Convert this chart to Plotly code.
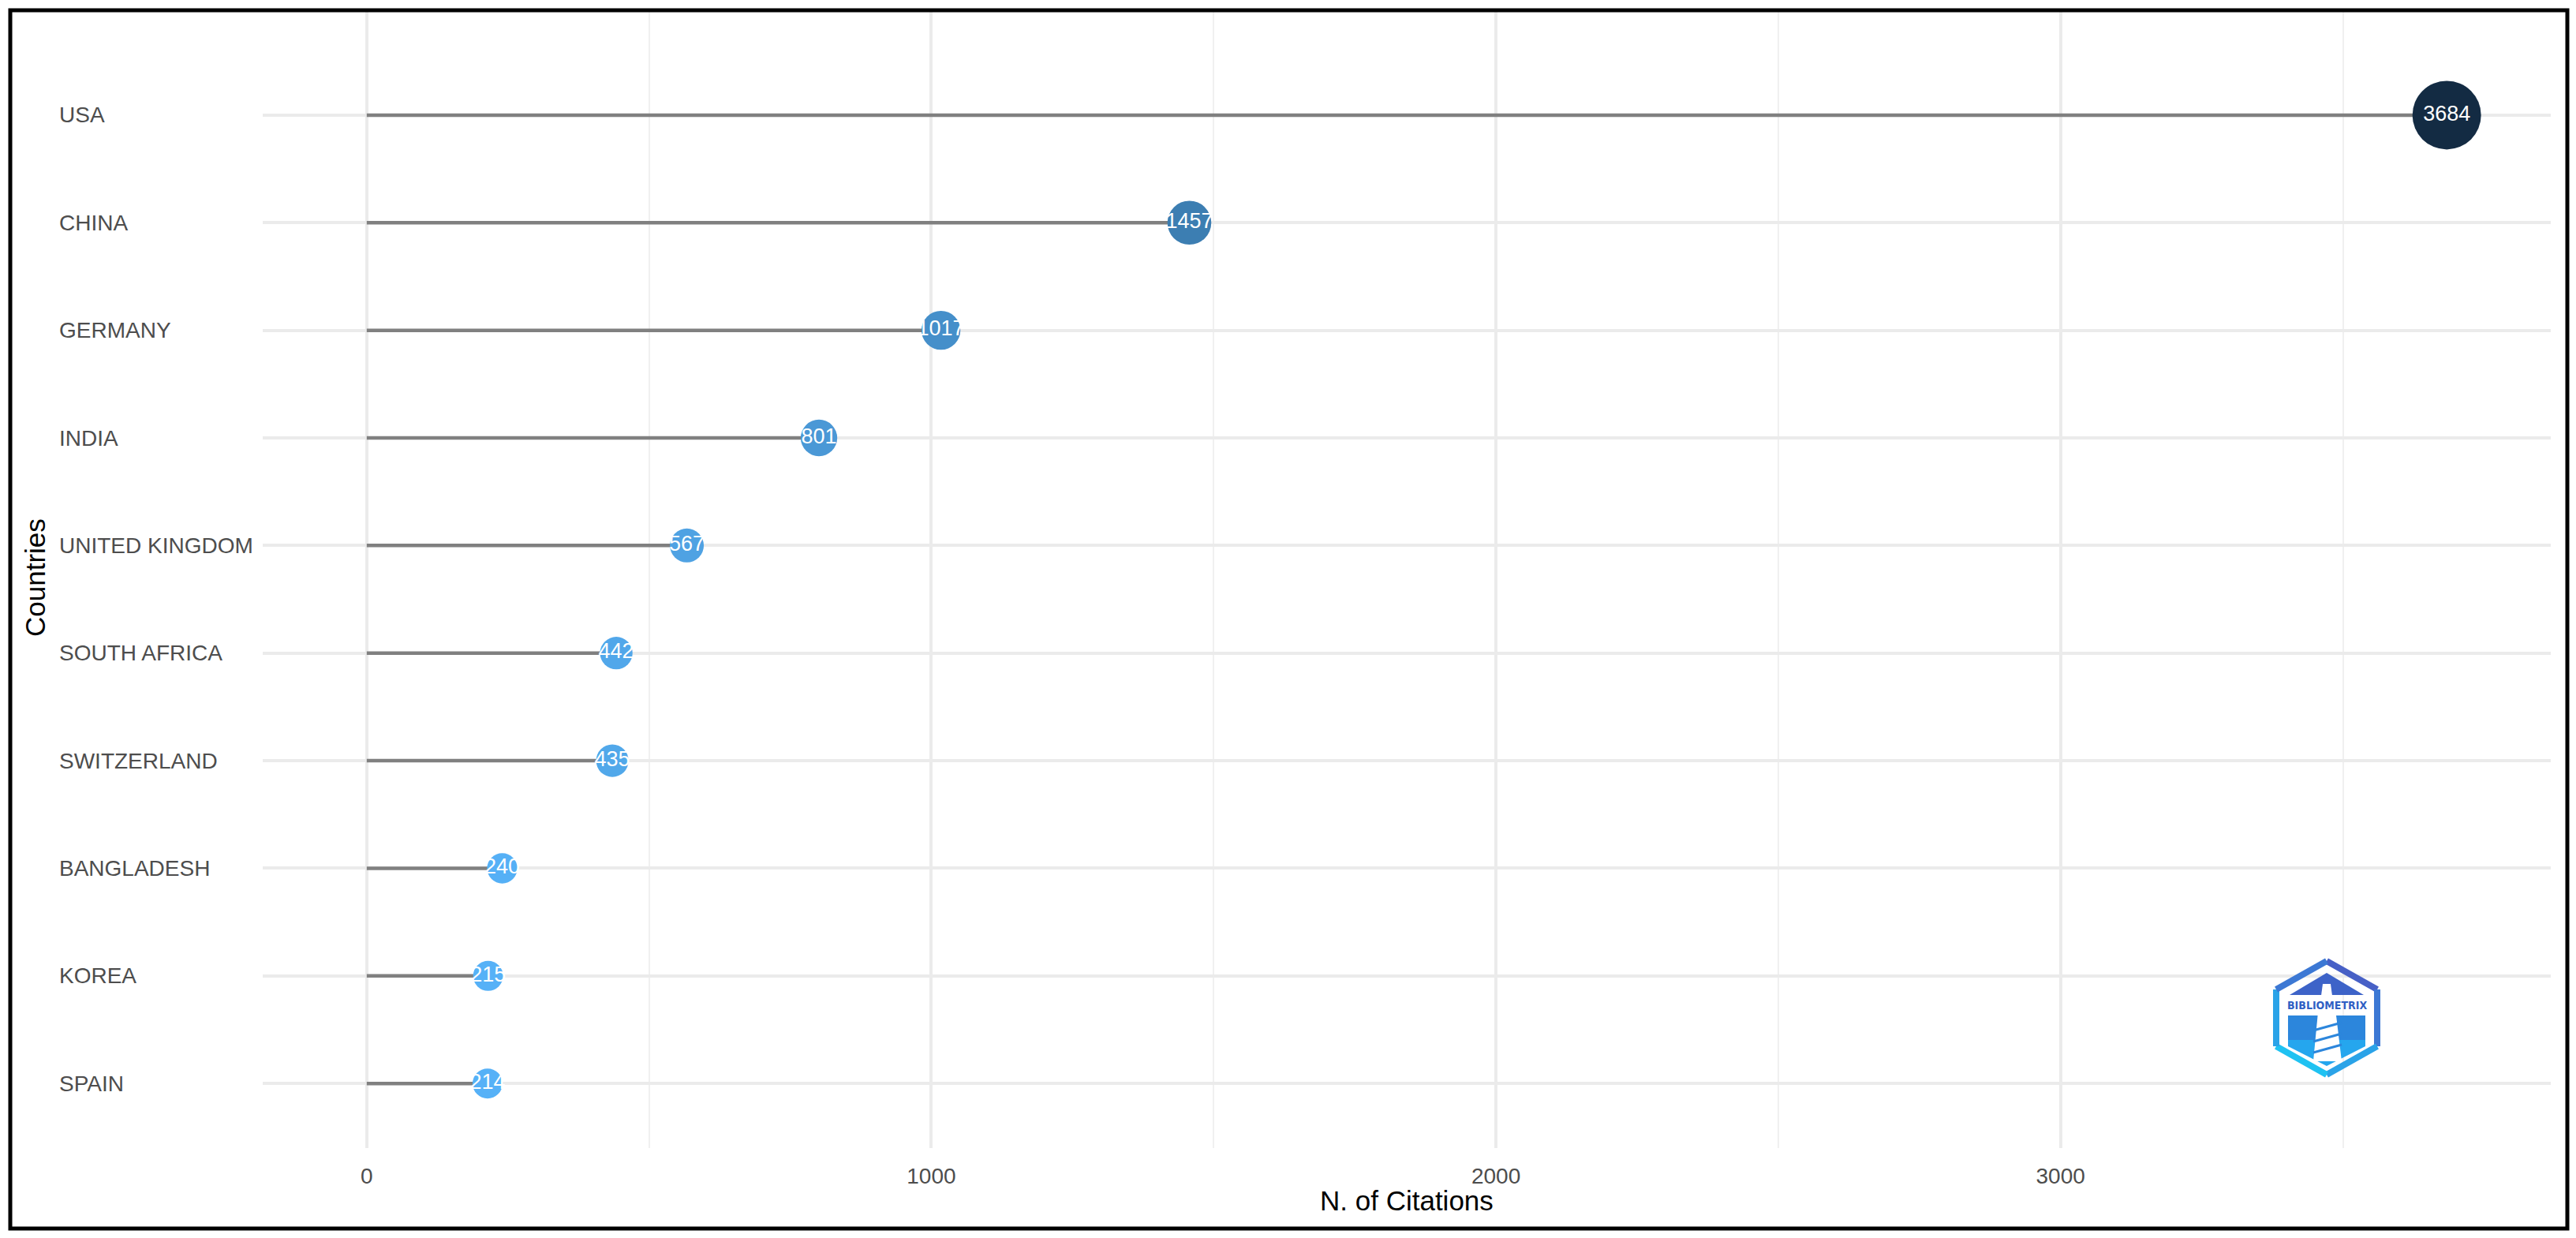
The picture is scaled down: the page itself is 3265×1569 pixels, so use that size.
import plotly.graph_objects as go

# ---------------- data ----------------
countries = ["USA", "CHINA", "GERMANY", "INDIA", "UNITED KINGDOM",
             "SOUTH AFRICA", "SWITZERLAND", "BANGLADESH", "KOREA", "SPAIN"]
citations = [3684, 1457, 1017, 801, 567, 442, 435, 240, 215, 214]
x_ticks = [0, 1000, 2000, 3000]
x_title = "N. of Citations"
y_title = "Countries"

# ---------------- colour scale (ggplot-like Lab gradient) ----------------
def _srgb_to_lin(c):
    c = c / 255.0
    return c / 12.92 if c <= 0.04045 else ((c + 0.055) / 1.055) ** 2.4

def _lin_to_srgb(c):
    c = 12.92 * c if c <= 0.0031308 else 1.055 * c ** (1 / 2.4) - 0.055
    return max(0, min(255, round(c * 255)))

def hex_to_lab(h):
    r, g, b = (_srgb_to_lin(int(h[i:i + 2], 16)) for i in (1, 3, 5))
    X = (0.4124 * r + 0.3576 * g + 0.1805 * b) / 0.95047
    Y = (0.2126 * r + 0.7152 * g + 0.0722 * b)
    Z = (0.0193 * r + 0.1192 * g + 0.9505 * b) / 1.08883
    f = lambda t: t ** (1 / 3) if t > 0.008856 else 7.787 * t + 16 / 116
    fx, fy, fz = f(X), f(Y), f(Z)
    return 116 * fy - 16, 500 * (fx - fy), 200 * (fy - fz)

def lab_to_hex(L, a, b):
    fy = (L + 16) / 116
    fx = fy + a / 500
    fz = fy - b / 200
    finv = lambda t: t ** 3 if t ** 3 > 0.008856 else (t - 16 / 116) / 7.787
    X, Y, Z = finv(fx) * 0.95047, finv(fy), finv(fz) * 1.08883
    r = 3.2406 * X - 1.5372 * Y - 0.4986 * Z
    g = -0.9689 * X + 1.8758 * Y + 0.0415 * Z
    bb = 0.0557 * X - 0.2040 * Y + 1.0570 * Z
    return "#%02X%02X%02X" % (_lin_to_srgb(max(r, 0)), _lin_to_srgb(max(g, 0)), _lin_to_srgb(max(bb, 0)))

light, dark = hex_to_lab("#56B1F7"), hex_to_lab("#132B43")
vmin, vmax = min(citations), max(citations)
tvals = [(v - vmin) / (vmax - vmin) for v in citations]
colors = [lab_to_hex(*[l + t * (d - l) for l, d in zip(light, dark)]) for t in tvals]
sizes = [38 + 49 * t for t in tvals]

# ---------------- figure geometry ----------------
OFF = 8                      # default page body margin
W, H = 3265 - 2 * OFF, 1569 - 2 * OFF
PANEL_L, PANEL_R, PANEL_T, PANEL_B = 333, 3233, 15, 1455   # page pixels
L = PANEL_L - OFF
T = PANEL_T - OFF
R = W - (PANEL_R - OFF)
B = H - (PANEL_B - OFF)
PW, PH = PANEL_R - PANEL_L, PANEL_B - PANEL_T

def px(x):
    return (x - PANEL_L) / PW

def py(y):
    return (PANEL_B - y) / PH

FONT = "Liberation Sans, Arial, sans-serif"

seg_x, seg_y = [], []
for c, v in zip(countries, citations):
    seg_x += [0, v, None]
    seg_y += [c, c, None]

fig = go.Figure()
fig.add_trace(go.Scatter(
    x=seg_x, y=seg_y, mode="lines",
    line=dict(color="#808080", width=4.5),
    hoverinfo="skip", showlegend=False))
fig.add_trace(go.Scatter(
    x=citations, y=countries, mode="markers+text",
    text=[str(v) for v in citations], textposition="middle center",
    textfont=dict(family=FONT, size=27, color="white"),
    marker=dict(color=colors, size=sizes, line=dict(width=0), opacity=1),
    cliponaxis=False, showlegend=False))

annotations = []
for c in countries:
    annotations.append(dict(
        x=px(73), xref="paper", y=c, yref="y", text=c, showarrow=False,
        xanchor="left", yanchor="middle",
        font=dict(family=FONT, size=28, color="#4D4D4D")))
annotations.append(dict(
    x=px(1783), xref="paper", y=py(1521), yref="paper", text=x_title, showarrow=False,
    xanchor="center", yanchor="middle",
    font=dict(family=FONT, size=35, color="black")))
annotations.append(dict(
    x=px(44), xref="paper", y=py(732), yref="paper", text=y_title, showarrow=False,
    textangle=-90, xanchor="center", yanchor="middle",
    font=dict(family=FONT, size=35, color="black")))

# ---------------- bibliometrix-like logo (decoration) ----------------
def path(points, close=True):
    s = "M " + " L ".join("%f,%f" % (px(a), py(b)) for a, b in points)
    return s + (" Z" if close else "")

cx = 2949
hexv = [(cx, 1218), (3013, 1254), (3013, 1326), (cx, 1362), (2885, 1326), (2885, 1254)]
shapes = []
shapes.append(dict(type="path", xref="paper", yref="paper",
                   path=path([(2900, 1287), (2998, 1287), (2998, 1318), (2900, 1318)]),
                   fillcolor="#2C86DC", line=dict(width=0)))
shapes.append(dict(type="path", xref="paper", yref="paper",
                   path=path([(2900, 1318), (2998, 1318), (2998, 1326), (cx, 1351), (2900, 1326)]),
                   fillcolor="#25A6EE", line=dict(width=0)))
shapes.append(dict(type="path", xref="paper", yref="paper",
                   path=path([(2902, 1261), (cx, 1233), (2996, 1261)]),
                   fillcolor="#3D63C8", line=dict(width=0)))
shapes.append(dict(type="path", xref="paper", yref="paper",
                   path=path([(2940, 1262), (2958, 1262), (2968, 1345), (2932, 1345)]),
                   fillcolor="white", line=dict(width=0)))
shapes.append(dict(type="path", xref="paper", yref="paper",
                   path=path([(2944, 1247), (2954, 1247), (2956, 1262), (2942, 1262)]),
                   fillcolor="white", line=dict(width=0)))
for yy in (1300, 1314, 1328):
    shapes.append(dict(type="path", xref="paper", yref="paper",
                       path=path([(2932, yy + 6), (2968, yy - 4)], close=False),
                       line=dict(color="#2C86DC", width=3)))
edge_cols = ["#4760C6", "#3C78D4", "#2AA3E8", "#1FC2F2", "#2AA3E8", "#3C78D4"]
for i in range(6):
    a, b = hexv[i], hexv[(i + 1) % 6]
    shapes.append(dict(type="path", xref="paper", yref="paper",
                       path=path([a, b], close=False),
                       line=dict(color=edge_cols[i], width=8)))
annotations.append(dict(
    x=px(cx), xref="paper", y=py(1274), yref="paper", text="<b>BIBLIOMETRIX</b>",
    showarrow=False, xanchor="center", yanchor="middle",
    font=dict(family="DejaVu Sans Condensed, DejaVu Sans, sans-serif", size=14, color="#2F5FC4")))

# outer frame
shapes.append(dict(type="rect", xref="paper", yref="paper",
                   x0=px(13), x1=px(3254), y0=py(1557), y1=py(13),
                   line=dict(color="black", width=5), fillcolor="rgba(0,0,0,0)", layer="above"))

fig.update_layout(
    width=W, height=H,
    margin=dict(l=L, r=R, t=T, b=B, pad=0),
    paper_bgcolor="white", plot_bgcolor="white",
    font=dict(family=FONT),
    xaxis=dict(range=[-184.2, 3868.2], tickmode="array", tickvals=x_ticks,
               ticktext=[str(t) for t in x_ticks],
               showgrid=True, gridcolor="#EBEBEB", gridwidth=4,
               minor=dict(dtick=500, tick0=0, showgrid=True, gridcolor="#F0F0F0", gridwidth=2),
               zeroline=False, showline=False,
               ticks="outside", ticklen=10, tickcolor="rgba(0,0,0,0)",
               tickfont=dict(size=28, color="#4D4D4D")),
    yaxis=dict(type="category", categoryorder="array",
               categoryarray=list(reversed(countries)),
               range=[-0.6, 9.96], showgrid=True, gridcolor="#EBEBEB", gridwidth=4,
               showticklabels=False, zeroline=False, showline=False, ticks=""),
    shapes=shapes, annotations=annotations, showlegend=False)

fig.write_html("out.html")
